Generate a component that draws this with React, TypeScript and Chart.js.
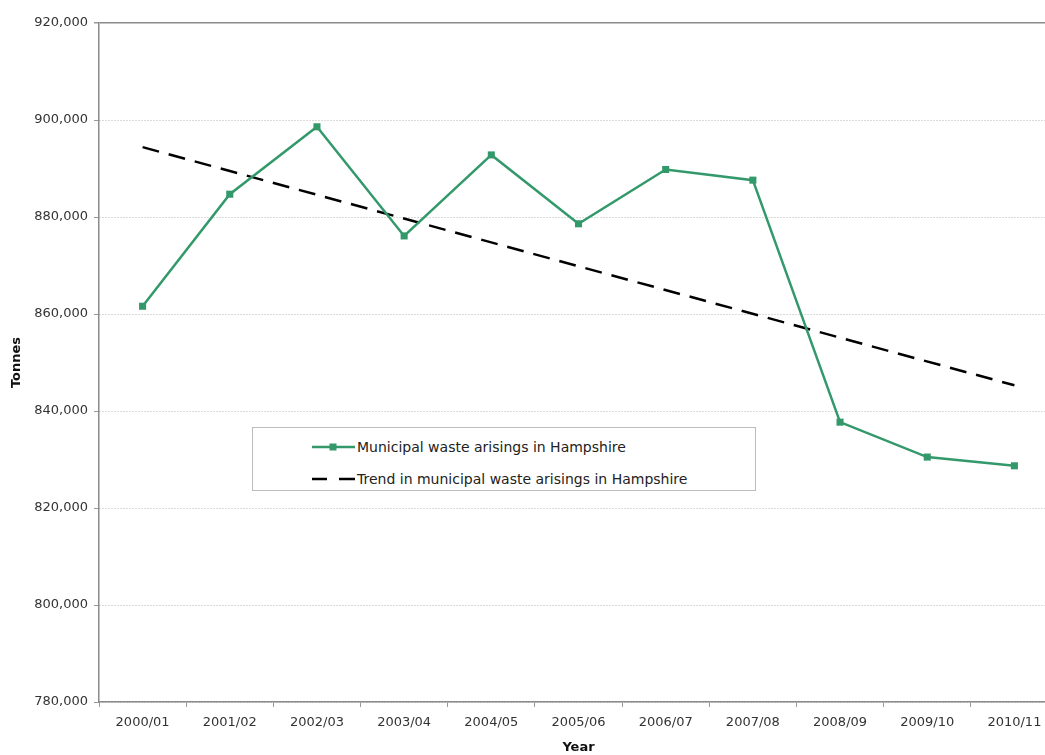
import React, { useEffect, useRef } from "react";
import { Chart, registerables } from "chart.js";

Chart.register(...registerables);

const categories = [
  "2000/01", "2001/02", "2002/03", "2003/04", "2004/05", "2005/06",
  "2006/07", "2007/08", "2008/09", "2009/10", "2010/11",
];

const wasteArisings = [
  861600, 884700, 898600, 876100, 892800, 878600,
  889800, 887600, 837700, 830500, 828700,
];

// Trend line: read at its two ends, straight line between them
const trendArisings = [
  894400, null, null, null, null, null, null, null, null, null, 845300,
];

const seriesLabels = [
  "Municipal waste arisings in Hampshire",
  "Trend in municipal waste arisings in Hampshire",
];

const yMin = 780000;
const yMax = 920000;
const yStep = 20000;

const GREEN = "#33996b";
const FONT = "'DejaVu Sans', Verdana, sans-serif";

// The plot area of the original runs past the right edge of the picture.
const extendRight = {
  id: "extendRight",
  afterLayout(chart: any) {
    const target = 1058;
    const area = chart.chartArea;
    area.right = target;
    area.width = target - area.left;
    const x = chart.scales.x;
    x.right = target;
    x.width = target - x.left;
    x.configure();
  },
};

export default function App() {
  const canvasRef = useRef<HTMLCanvasElement | null>(null);

  useEffect(() => {
    const canvas = canvasRef.current;
    if (!canvas) return;
    const chart = new Chart(canvas, {
      type: "line",
      data: {
        labels: categories,
        datasets: [
          {
            label: seriesLabels[0],
            data: wasteArisings,
            borderColor: GREEN,
            backgroundColor: GREEN,
            borderWidth: 2.5,
            pointStyle: "rect",
            pointRadius: 5,
            pointBorderWidth: 0,
            pointBackgroundColor: GREEN,
            tension: 0,
          },
          {
            label: seriesLabels[1],
            data: trendArisings,
            borderColor: "#000000",
            borderWidth: 2.5,
            borderDash: [17, 10],
            pointRadius: 0,
            spanGaps: true,
            tension: 0,
          },
        ],
      },
      plugins: [extendRight],
      options: {
        responsive: false,
        animation: false,
        devicePixelRatio: 1,
        layout: { padding: { top: 23, right: 0, bottom: 0, left: 0 } },
        plugins: {
          legend: { display: false },
          tooltip: { enabled: false },
        },
        scales: {
          x: {
            type: "category",
            offset: true,
            grid: {
              offset: true,
              drawOnChartArea: false,
              drawTicks: true,
              tickLength: 5,
              tickColor: "#999999",
              color: "#999999",
            },
            border: { display: true, color: "#8a8a8a", width: 1.5 },
            ticks: {
              color: "#333333",
              font: { family: FONT, size: 13 },
              padding: 8,
              maxRotation: 0,
              autoSkip: false,
            },
            title: {
              display: true,
              text: "Year",
              color: "#111111",
              font: { family: FONT, size: 13, weight: "bold" },
              padding: { top: 0, bottom: 0 },
            },
            afterFit: (scale: any) => {
              scale.height = 53;
            },
          },
          y: {
            min: yMin,
            max: yMax,
            grid: {
              color: (ctx: any) =>
                ctx.tick && ctx.tick.value === yMax ? "#8a8a8a" : "#b5b5b5",
              lineWidth: (ctx: any) =>
                ctx.tick && ctx.tick.value === yMax ? 1.5 : 1,
              drawTicks: true,
              tickLength: 5,
              tickColor: "#999999",
              tickBorderDash: [],
            },
            border: {
              display: true,
              color: "#8a8a8a",
              width: 1.5,
              dash: (ctx: any) =>
                ctx.tick && ctx.tick.value === yMax ? [] : [1, 2],
            },
            ticks: {
              stepSize: yStep,
              color: "#333333",
              font: { family: FONT, size: 13 },
              padding: 6,
              callback: (v: any) => Number(v).toLocaleString("en-US"),
            },
            title: {
              display: true,
              text: "Tonnes",
              color: "#111111",
              font: { family: FONT, size: 13, weight: "bold" },
              padding: { top: 9, bottom: 0 },
            },
            afterFit: (scale: any) => {
              scale.width = 99;
            },
          },
        },
      },
    });
    return () => chart.destroy();
  }, []);

  const legendRow = (top: number, dashed: boolean, text: string) => (
    <div
      style={{
        position: "absolute",
        left: 58,
        top,
        height: 20,
        display: "flex",
        alignItems: "center",
        whiteSpace: "nowrap",
      }}
    >
      <svg width={45} height={12} style={{ display: "block" }}>
        {dashed ? (
          <>
            <line x1={1} y1={6} x2={16} y2={6} stroke="#000" strokeWidth={2.5} />
            <line x1={28} y1={6} x2={44} y2={6} stroke="#000" strokeWidth={2.5} />
          </>
        ) : (
          <>
            <line x1={1} y1={6} x2={44} y2={6} stroke={GREEN} strokeWidth={2.5} />
            <rect x={18.5} y={2.5} width={7} height={7} fill={GREEN} />
          </>
        )}
      </svg>
      <span
        style={{
          fontFamily: FONT,
          fontSize: 14,
          color: "#222222",
          marginLeft: 1,
        }}
      >
        {text}
      </span>
    </div>
  );

  return (
    <div
      style={{
        position: "fixed",
        left: 0,
        top: 0,
        width: 1045,
        height: 755,
        overflow: "hidden",
        background: "#ffffff",
      }}
    >
      <canvas
        ref={canvasRef}
        width={1045}
        height={755}
        style={{ position: "absolute", left: 0, top: 0, width: 1045, height: 755 }}
      />
      <div
        style={{
          position: "absolute",
          left: 252,
          top: 427,
          width: 504,
          height: 64,
          border: "1px solid #bdbdbd",
          background: "#ffffff",
          boxSizing: "border-box",
        }}
      >
        {legendRow(9, false, seriesLabels[0])}
        {legendRow(41, true, seriesLabels[1])}
      </div>
    </div>
  );
}
